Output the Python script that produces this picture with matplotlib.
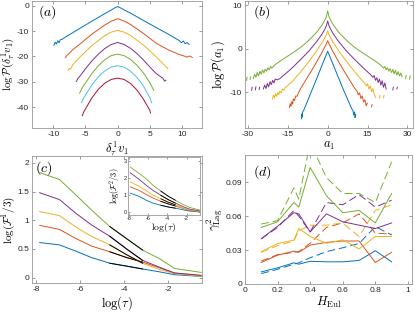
import numpy as np
import matplotlib
matplotlib.use("Agg")
import matplotlib.pyplot as plt

plt.rcParams['font.family'] = ['Liberation Sans', 'DejaVu Sans']
plt.rcParams['mathtext.fontset'] = 'cm'
plt.rcParams['axes.unicode_minus'] = False

nan = np.nan
C = ["#0072BD", "#D95319", "#EDB120", "#7E2F8E", "#77AC30", "#4DBEEE", "#A2142F"]

# ---- panel (a): log P of velocity increments, 7 shifted curves
a_blue = [(-9.9, -15.6), (-9.7, -14.4), (-9.5, -15.1), (-9.3, -13.8), (-9.1, -14.6), (-8.9, -13.4),
          (-8.6, -13.2), (-8, -12.2), (-6, -9.1), (-4, -6.1), (-2, -3.1), (-1, -1.7), (-0.5, -0.9),
          (0, -0.3), (0.5, -0.9), (1, -1.6), (2, -2.9), (4, -5.8), (6, -8.6), (8, -11.4), (9, -12.9),
          (9.6, -13.8), (9.9, -14.6), (10.2, -13.9), (10.5, -15.0), (10.8, -14.5), (11.1, -15.3)]
a_orange = [(-8.1, -20.5), (-7.9, -19.6), (-7.7, -19.3), (-7, -17.4), (-6, -15.4), (-4, -11.2),
            (-2, -7.6), (-1, -6.1), (0, -5.1), (1, -6.0), (2, -7.4), (4, -10.9), (6, -14.8),
            (8, -17.6), (9, -18.6), (9.5, -19.2), (10, -19.6), (10.4, -19.9), (10.8, -20.3),
            (11.2, -19.8), (11.6, -20.4)]
a_yellow = [(-7.7, -25.5), (-7.5, -24.8), (-7.3, -25.0), (-7, -23.5), (-6, -20.6), (-4, -15.7),
            (-2, -11.8), (-1, -10.4), (0, -9.7), (1, -10.4), (2, -11.7), (4, -15.5), (6, -20.2),
            (7, -22.8), (7.5, -24.0), (7.8, -24.9)]
a_purple = [(-6.4, -29.9), (-6.2, -28.8), (-6, -28.3), (-5, -24.9), (-4, -21.8), (-3, -19.1),
            (-2, -16.9), (-1, -15.3), (0, -14.5), (1, -15.3), (2, -16.8), (3, -18.9), (4, -21.4),
            (5, -24.2), (6, -26.8), (7, -28.6), (7.3, -29.8), (7.5, -29.4)]
a_green = [(-5.9, -34.5), (-5.5, -32.4), (-5, -30.5), (-4, -26.8), (-3, -23.7), (-2, -21.3),
           (-1, -19.7), (0, -19.1), (1, -19.7), (2, -21.2), (3, -23.5), (4, -26.5), (5, -30.4),
           (5.6, -33.4)]
a_cyan = [(-5.6, -38.2), (-5.3, -36.6), (-5, -35.3), (-4, -31.3), (-3, -28.1), (-2, -25.7),
          (-1, -24.2), (0, -23.7), (1, -24.2), (2, -25.8), (3, -28.3), (4, -31.7), (5, -36.3),
          (5.3, -38.4)]
a_red = [(-5.5, -43.4), (-5.2, -41.6), (-5, -40.8), (-4, -36.4), (-3, -33.0), (-2, -30.6),
         (-1, -29.1), (0, -28.6), (1, -29.1), (2, -30.7), (3, -33.3), (4, -36.9), (5, -41.3),
         (5.1, -42.4)]

# ---- panel (b): log P of acceleration
b_blue = [(-9.9, -16.2), (-9.8, -15.1), (-9.6, -15.8), (-9.4, -14.6), (-9, -14.2), (-8, -12.7),
          (-6, -9.7), (-4, -6.7), (-2, -3.6), (-1, -2.1), (-0.5, -1.3), (0, -0.6), (0.5, -1.3),
          (1, -2.1), (2, -3.6), (4, -6.6), (6, -9.6), (8, -12.4), (9, -13.8), (9.5, -14.3),
          (9.8, -15.3), (10.1, -14.6), (10.3, -15.9), (10.5, -15.2)]
b_orange = [(-14.4, -13.6), (-14.1, -12.7), (-13.8, -13.3), (-13.5, -12.2), (-13.2, -12.8),
            (-12.9, -11.6), (-12.5, -12.0), (-12, -10.9), (-11.5, -11.0), (-11, -10.2), (-10, -9.0),
            (-8, -7.0), (-6, -5.0), (-4, -2.9), (-2, -0.7), (-1, 0.5), (-0.5, 1.1), (0, 1.85),
            (0.5, 1.1), (1, 0.5), (2, -0.7), (4, -2.9), (6, -5.0), (8, -7.0), (10, -9.0),
            (11, -9.8), (11.5, -10.6), (12, -10.2), (12.5, -11.5), (13, -10.9), (13.5, -12.3),
            (14, -11.8), (14.5, -13.2), (14.9, -12.6), (nan, nan), (16.5, -13.4), (16.7, -12.9)]
b_yellow = [(-20.8, -11.6), (-20.4, -10.7), (-20.0, -11.4), (-19.6, -10.4), (-19.2, -11.0),
            (-18.8, -10.1), (-18.4, -10.6), (-18, -9.8), (-17.5, -10.2), (-17, -9.3), (-16.5, -9.6),
            (-16, -9.0), (-13, -7.4), (-10, -5.2), (-7, -2.9), (-4, -0.35), (-2, 1.5), (-1, 2.6),
            (-0.5, 3.26), (0, 4.1), (0.5, 3.26), (1, 2.6), (2, 1.5), (4, -0.35), (7, -2.9),
            (10, -5.2), (13, -7.4), (14, -8.0), (14.5, -8.6), (15, -8.1), (15.5, -9.3), (16, -8.6),
            (16.5, -9.9), (17, -9.2), (17.5, -10.5), (18, -11.2), (nan, nan), (19.5, -11.4),
            (19.7, -10.8), (nan, nan), (21, -11.3), (21.2, -10.8)]
b_purple = [(-28.6, -9.6), (-28.4, -8.9), (nan, nan), (-27.2, -9.5), (-27.0, -8.8), (nan, nan),
            (-25.8, -9.4), (-25.6, -8.9), (nan, nan), (-24.2, -9.3), (-23.7, -8.4), (-23.2, -9.2),
            (-22.7, -8.0), (-22.2, -8.8), (-21.7, -7.6), (-21.2, -8.3), (-20.7, -7.3), (-20.2, -7.9),
            (-19.7, -7.0), (-19, -7.2), (-18, -6.9), (-14, -4.8), (-10, -2.4), (-7, -0.5),
            (-4, 1.75), (-2, 3.5), (-1, 4.6), (-0.5, 5.3), (0, 6.4), (0.5, 5.3), (1, 4.6), (2, 3.5),
            (4, 1.75), (7, -0.5), (10, -2.4), (14, -4.8), (16, -5.9), (17, -6.6), (17.5, -6.2),
            (18, -7.3), (18.5, -6.7), (19, -7.8), (19.5, -7.0), (20, -8.4), (20.5, -7.4), (21, -8.9),
            (21.5, -7.9), (22, -9.3), (nan, nan), (24.5, -9.5), (24.7, -8.9), (nan, nan),
            (26, -9.3), (26.2, -8.9)]
b_green = [(-30.5, -7.3), (-30.3, -6.6), (nan, nan), (-29.2, -7.1), (-29, -6.5), (nan, nan),
           (-28, -6.9), (-27.5, -5.9), (-27, -6.6), (-26.5, -5.5), (-26, -6.3), (-25.5, -5.2),
           (-25, -5.9), (-24.5, -4.9), (-24, -5.6), (-23.5, -4.7), (-23, -5.2), (-22.5, -4.4),
           (-22, -4.9), (-21.5, -4.1), (-21, -4.5), (-20, -3.8), (-18, -2.9), (-15, -1.7),
           (-12, -0.5), (-10, 0.4), (-8, 1.4), (-6, 2.6), (-4, 3.9), (-2, 5.6), (-1, 6.7),
           (-0.5, 7.4), (0, 8.7), (0.5, 7.4), (1, 6.7), (2, 5.6), (4, 3.9), (6, 2.6), (8, 1.4),
           (10, 0.4), (12, -0.5), (15, -1.7), (18, -2.9), (20, -3.8), (21, -4.5), (21.5, -4.1),
           (22, -4.9), (22.5, -4.4), (23, -5.2), (23.5, -4.6), (24, -5.5), (24.5, -4.8), (25, -5.8),
           (25.5, -5.0), (26, -6.1), (26.5, -5.3), (27, -6.3), (27.5, -5.6), (28, -6.5), (nan, nan),
           (29.3, -6.9), (29.5, -6.2), (nan, nan), (30.8, -7.0), (31, -6.3)]

# ---- panel (c): flatness vs log(tau)
log_tau = [-7.85, -6.95, -6.2, -5.5, -4.66, -3.9, -3.17, -2.4, -1.72, -0.5]
c_blue = [0.61, 0.57, 0.46, 0.35, 0.25, 0.20, 0.15, 0.10, 0.05, 0.02]
c_orange = [0.91, 0.84, 0.68, 0.55, 0.45, 0.35, 0.27, 0.17, 0.08, 0.03]
c_yellow = [1.15, 1.08, 0.88, 0.72, 0.57, 0.40, 0.25, 0.14, 0.07, 0.02]
c_purple = [1.48, 1.36, 1.12, 0.92, 0.72, 0.50, 0.30, 0.18, 0.08, 0.04]
c_green = [1.83, 1.71, 1.44, 1.18, 0.89, 0.68, 0.48, 0.33, 0.16, 0.09]
# inset: second component
i_blue = [1.13, 0.95, 0.72, 0.55, 0.42, 0.32, 0.25, 0.16, 0.08, 0.03]
i_orange = [1.50, 1.30, 1.05, 0.85, 0.65, 0.50, 0.38, 0.24, 0.12, 0.04]
i_yellow = [1.78, 1.55, 1.28, 1.02, 0.80, 0.60, 0.45, 0.28, 0.15, 0.05]
i_purple = [2.33, 1.95, 1.60, 1.30, 1.00, 0.75, 0.55, 0.35, 0.20, 0.08]
i_green = [2.66, 2.30, 1.98, 1.60, 1.25, 0.95, 0.72, 0.48, 0.30, 0.12]

# ---- panel (d): intermittency coefficient vs H
H_eul = [0.1, 0.2, 0.3, 0.33, 0.4, 0.5, 0.6, 0.7, 0.8, 0.9]
d_blue = [0.0107, 0.0143, 0.0187, 0.0175, 0.0201, 0.0196, 0.0196, 0.0208, 0.0294, 0.0196]
d_blue_dash = [0.0092, 0.0130, 0.0175, 0.0187, 0.0232, 0.0286, 0.0320, 0.0358, 0.0507, 0.0433]
d_orange = [0.0190, 0.0255, 0.0290, 0.0280, 0.0344, 0.0368, 0.0380, 0.0380, 0.0190, 0.0280]
d_orange_dash = [0.0202, 0.0260, 0.0280, 0.0286, 0.0360, 0.0500, 0.0540, 0.0620, 0.0450, 0.0440]
d_yellow = [0.0285, 0.0358, 0.0388, 0.0490, 0.0420, 0.0360, 0.0390, 0.0310, 0.0420, 0.0420]
d_yellow_dash = [0.0280, 0.0340, 0.0380, 0.0470, 0.0520, 0.0520, 0.0540, 0.0420, 0.0650, 0.0700]
d_purple = [0.0400, 0.0510, 0.0630, 0.0620, 0.0460, 0.0620, 0.0550, 0.0520, 0.0490, 0.0540]
d_purple_dash = [0.0400, 0.0500, 0.0650, 0.0600, 0.0460, 0.0720, 0.0700, 0.0790, 0.0680, 0.0740]
d_green = [0.0500, 0.0550, 0.0720, 0.0680, 0.1030, 0.0780, 0.0630, 0.0650, 0.0540, 0.0800]
d_green_dash = [0.0530, 0.0560, 0.0850, 0.0750, 0.1250, 0.0940, 0.0800, 0.0800, 0.0720, 0.1080]


def style(ax, fs=6):
    for s in ax.spines.values():
        s.set_color("0.6")
        s.set_linewidth(0.6)
    ax.tick_params(direction="in", length=2.5, width=0.5, color="0.45", labelsize=fs,
                   labelcolor="0.15", top=True, right=True, pad=2)


W, H = 415, 312
fig = plt.figure(figsize=(W / 100, H / 100), dpi=100)
ax_a = fig.add_axes([32 / W, 1 - 128 / H, 170 / W, 127 / H])
ax_b = fig.add_axes([245 / W, 1 - 128 / H, 167.5 / W, 127 / H])
ax_c = fig.add_axes([32 / W, 1 - 283.3 / H, 170.3 / W, 127.3 / H])
ax_d = fig.add_axes([245 / W, 1 - 284 / H, 167 / W, 129 / H])
ax_i = fig.add_axes([128.3 / W, 1 - 215 / H, 71.7 / W, 58 / H])

lw = 0.7
lab = 9
# (a)
for pts, c in zip([a_blue, a_orange, a_yellow, a_purple, a_green, a_cyan, a_red], C):
    x, y = zip(*pts)
    ax_a.plot(x, y, color=c, lw=lw)
ax_a.set_xlim(-13.3, 13.1)
ax_a.set_ylim(-48.3, 1.9)
ax_a.set_xticks([-10, -5, 0, 5, 10])
ax_a.set_yticks([-40, -30, -20, -10, 0])
ax_a.set_xlabel(r"$\delta_\tau^1 v_1$", fontsize=lab, labelpad=0)
ax_a.set_ylabel(r"$\log\mathcal{P}(\delta_\tau^1 v_1)$", fontsize=8)
ax_a.yaxis.set_label_coords(-0.095, 0.5)
ax_a.xaxis.set_label_coords(0.5, -0.095)
ax_a.text(0.035, 0.91, r"$(a)$", transform=ax_a.transAxes, fontsize=10, va="center")
style(ax_a)

# (b)
for pts, c in zip([b_blue, b_orange, b_yellow, b_purple, b_green], C):
    x, y = zip(*pts)
    ax_b.plot(x, y, color=c, lw=lw)
ax_b.set_xlim(-31.1, 31.9)
ax_b.set_ylim(-18.3, 11.0)
ax_b.set_xticks([-30, -15, 0, 15, 30])
ax_b.set_yticks([-10, 0, 10])
ax_b.set_xlabel(r"$a_1$", fontsize=lab, labelpad=0)
ax_b.set_ylabel(r"$\log\mathcal{P}(a_1)$", fontsize=lab)
ax_b.yaxis.set_label_coords(-0.105, 0.5)
ax_b.xaxis.set_label_coords(0.5, -0.095)
ax_b.text(0.05, 0.91, r"$(b)$", transform=ax_b.transAxes, fontsize=10, va="center")
style(ax_b)

# (c)
for ys, c in zip([c_blue, c_orange, c_yellow, c_purple, c_green], C):
    ax_c.plot(log_tau, ys, color=c, lw=lw)
    ax_c.plot(log_tau[4:7], ys[4:7], color="k", lw=lw)
ax_c.set_xlim(-8.2, -0.45)
ax_c.set_ylim(-0.1, 2.12)
ax_c.set_xticks([-8, -6, -4, -2])
ax_c.set_yticks([0, 0.5, 1, 1.5, 2])
ax_c.set_xticklabels(["-8", "-6", "-4", "-2"])
ax_c.set_yticklabels(["0", "0.5", "1", "1.5", "2"])
ax_c.set_xlabel(r"$\log(\tau)$", fontsize=lab, labelpad=0)
ax_c.set_ylabel(r"$\log(\mathcal{F}^1/3)$", fontsize=8)
ax_c.yaxis.set_label_coords(-0.088, 0.5)
ax_c.xaxis.set_label_coords(0.5, -0.085)
ax_c.text(0.02, 0.905, r"$(c)$", transform=ax_c.transAxes, fontsize=10, va="center")
style(ax_c)

for ys, c in zip([i_blue, i_orange, i_yellow, i_purple, i_green], C):
    ax_i.plot(log_tau, ys, color=c, lw=0.6)
    ax_i.plot(log_tau[4:7], ys[4:7], color="k", lw=0.6)
ax_i.set_xlim(-8.05, -0.6)
ax_i.set_ylim(-0.15, 3.25)
ax_i.set_xticks([-8, -6, -4, -2])
ax_i.set_yticks([0, 1, 2, 3])
ax_i.set_xlabel(r"$\log(\tau)$", fontsize=7, labelpad=0)
ax_i.set_ylabel(r"$\log(\mathcal{F}^2/3)$", fontsize=6, labelpad=1)
style(ax_i, fs=4)
ax_i.tick_params(length=1.5, pad=1)

# (d)
for ys, yd, c in zip([d_blue, d_orange, d_yellow, d_purple, d_green],
                     [d_blue_dash, d_orange_dash, d_yellow_dash, d_purple_dash, d_green_dash], C):
    ax_d.plot(H_eul, ys, color=c, lw=lw)
    ax_d.plot(H_eul, yd, color=c, lw=lw, ls=(0, (8, 4)))
ax_d.set_xlim(0, 1.025)
ax_d.set_ylim(0, 0.114)
ax_d.set_xticks([0, 0.2, 0.4, 0.6, 0.8, 1])
ax_d.set_xticklabels(["0", "0.2", "0.4", "0.6", "0.8", "1"])
ax_d.set_yticks([0, 0.03, 0.06, 0.09])
ax_d.set_yticklabels(["0", "0.03", "0.06", "0.09"])
ax_d.set_xlabel(r"$H_{\rm Eul}$", fontsize=lab, labelpad=0)
ax_d.set_ylabel(r"$\gamma^2_{\rm Lag}$", fontsize=lab)
ax_d.yaxis.set_label_coords(-0.12, 0.5)
ax_d.xaxis.set_label_coords(0.5, -0.085)
ax_d.text(0.05, 0.87, r"$(d)$", transform=ax_d.transAxes, fontsize=10, va="center")
style(ax_d)

fig.savefig("out.png", dpi=100)
